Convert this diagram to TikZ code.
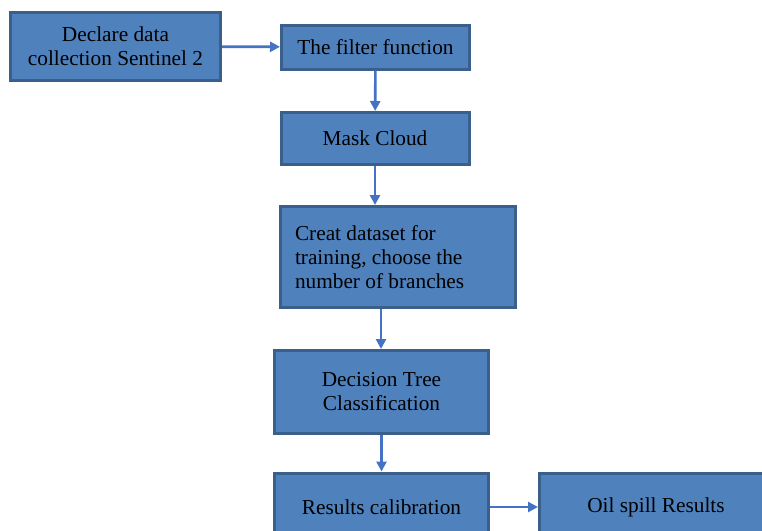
\documentclass[tikz,border=0pt]{standalone}
\usepackage{fontspec}
\setmainfont{Liberation Serif}
\usetikzlibrary{arrows.meta}
\definecolor{boxfill}{HTML}{4F81BD}
\definecolor{boxline}{HTML}{3A5F8B}
\definecolor{arrowc}{HTML}{4472C4}
\tikzset{
  stepbox/.style={draw=boxline, fill=boxfill, line width=3pt, rectangle,
    font=\fontsize{21.3}{24}\selectfont, align=center, inner sep=4pt},
  flow/.style={draw=arrowc, line width=2.6pt, -{Triangle[length=10pt,width=10pt]}}
}
\begin{document}
\begin{tikzpicture}[x=1pt,y=-1pt]
\useasboundingbox (0,0) rectangle (762,530);
\clip (0,0) rectangle (762,530);
\node[stepbox, minimum width=210pt, minimum height=68pt] (b1) at (115.5,46.5) {Declare data\\collection Sentinel 2};
\node[stepbox, minimum width=188pt, minimum height=44pt] (b2) at (375.5,47) {The filter function};
\node[stepbox, minimum width=188pt, minimum height=52pt] (b3) at (375,138.5) {Mask Cloud};
\node[stepbox, minimum width=234pt, minimum height=101pt, text width=205pt, align=flush left, inner sep=15pt] (b4) at (397.5,257) {Creat dataset for\\training, choose the\\number of branches};
\node[stepbox, minimum width=214pt, minimum height=83pt] (b5) at (381.5,392) {Decision Tree\\Classification};
\node[stepbox, minimum width=214pt, minimum height=68pt] (b6) at (381.5,507) {Results calibration};
\node[stepbox, minimum width=233pt, minimum height=68pt] (b7) at (656,507) {Oil spill Results};
\coordinate (a3) at (375,0);
\coordinate (a4) at (381,0);
\draw[flow] (b1) -- (b2);
\draw[flow] (b2) -- (b3);
\draw[flow] (a3 |- b3.south) -- (a3 |- b4.north);
\draw[flow] (a4 |- b4.south) -- (a4 |- b5.north);
\draw[flow] (b5) -- (b6);
\draw[flow] (b6) -- (b7);
\end{tikzpicture}
\end{document}
